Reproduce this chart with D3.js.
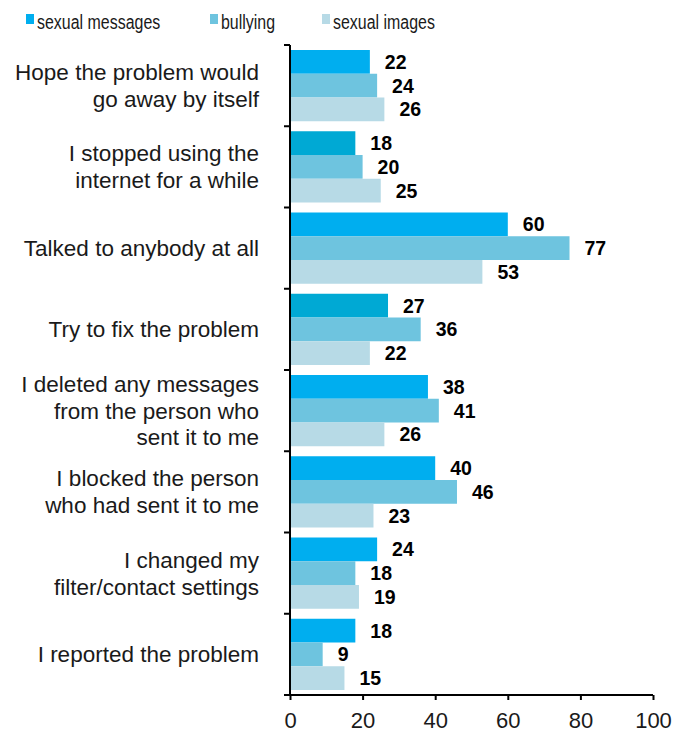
<!DOCTYPE html>
<html><head><meta charset="utf-8">
<script src="https://cdn.jsdelivr.net/npm/d3@7"></script>
<style>body{margin:0;background:#fff}svg{display:block}</style>
</head><body>
<svg id="c" width="674" height="733"></svg>
<script>
const categories = [
  "Hope the problem would|go away by itself",
  "I stopped using the|internet for a while",
  "Talked to anybody at all",
  "Try to fix the problem",
  "I deleted any messages|from the person who|sent it to me",
  "I blocked the person|who had sent it to me",
  "I changed my|filter/contact settings",
  "I reported the problem"
];
const seriesNames = ["sexual messages", "bullying", "sexual images"];
const sexualMessages = [22, 18, 60, 27, 38, 40, 24, 18];
const bullying = [24, 20, 77, 36, 41, 46, 18, 9];
const sexualImages = [26, 25, 53, 22, 26, 23, 19, 15];
const xTicks = [0, 20, 40, 60, 80, 100];

const colors = ["#00AEEF", "#6EC4DF", "#B7DAE6"];
const altColor = "#00A9D4"; // darker shade used on a couple of bars in the original
const altBars = [1, 3];

const series = [sexualMessages, bullying, sexualImages];
const svg = d3.select("#c");
const font = "'Liberation Sans', Arial, Helvetica, sans-serif";

const x = d3.scaleLinear().domain([0, 100]).range([290, 653]);
const y = d3.scaleBand().domain(d3.range(categories.length)).range([45, 695]).paddingInner(0).paddingOuter(0);
const inner = d3.scaleBand().domain(d3.range(3)).range([5, y.bandwidth() - 5]).padding(0);

// bars
const g = svg.append("g");
categories.forEach((c, i) => {
  series.forEach((s, k) => {
    const v = s[i];
    const yy = y(i) + inner(k);
    let col = colors[k];
    if (k === 0 && altBars.includes(i)) col = altColor;
    g.append("rect")
      .attr("x", x(0) + 1).attr("y", yy)
      .attr("width", x(v) - x(0) - 1).attr("height", inner.bandwidth())
      .attr("fill", col);
    g.append("text")
      .attr("x", x(v) + 15).attr("y", yy + inner.bandwidth() / 2 + 7)
      .attr("font-family", font).attr("font-weight", "bold").attr("font-size", 19.5)
      .attr("fill", "#000").text(v);
  });
});

// category labels
categories.forEach((c, i) => {
  const lines = c.split("|");
  const cy = y(i) + y.bandwidth() / 2;
  const lh = 26.8;
  const t = svg.append("text")
    .attr("text-anchor", "end").attr("font-family", font).attr("font-size", 22.5)
    .attr("fill", "#1a1a1a");
  lines.forEach((l, j) => {
    t.append("tspan").attr("x", 259)
      .attr("y", cy + (j - (lines.length - 1) / 2) * lh + 8).text(l);
  });
});

// y axis line + category ticks
svg.append("line").attr("x1", 290).attr("x2", 290).attr("y1", 45).attr("y2", 696)
  .attr("stroke", "#000").attr("stroke-width", 2);
d3.range(categories.length + 1).forEach(i => {
  const yy = i < categories.length ? y(i) : 695;
  svg.append("line").attr("x1", 284).attr("x2", 290).attr("y1", yy).attr("y2", yy)
    .attr("stroke", "#000").attr("stroke-width", 2);
});

// x axis
const xAxis = d3.axisBottom(x).tickValues(xTicks).tickSize(5).tickSizeOuter(0).tickPadding(12);
const ax = svg.append("g").attr("transform", "translate(0,695)").call(xAxis);
ax.select(".domain").attr("stroke-width", 2).attr("d", "M284,0H653");
ax.selectAll(".tick line").attr("stroke-width", 2);
ax.selectAll(".tick text").attr("font-family", font).attr("font-size", 22).attr("fill", "#1a1a1a");

// legend (condensed look of the original)
const legX = [26, 210, 322];
seriesNames.forEach((n, k) => {
  svg.append("rect").attr("x", legX[k]).attr("y", 14).attr("width", 8).attr("height", 10).attr("fill", colors[k]);
  svg.append("text").attr("transform", `translate(${legX[k] + 11},29) scale(0.76,1)`)
    .attr("font-family", font).attr("font-size", 21).attr("fill", "#1a1a1a").text(n);
});
</script>
</body></html>
